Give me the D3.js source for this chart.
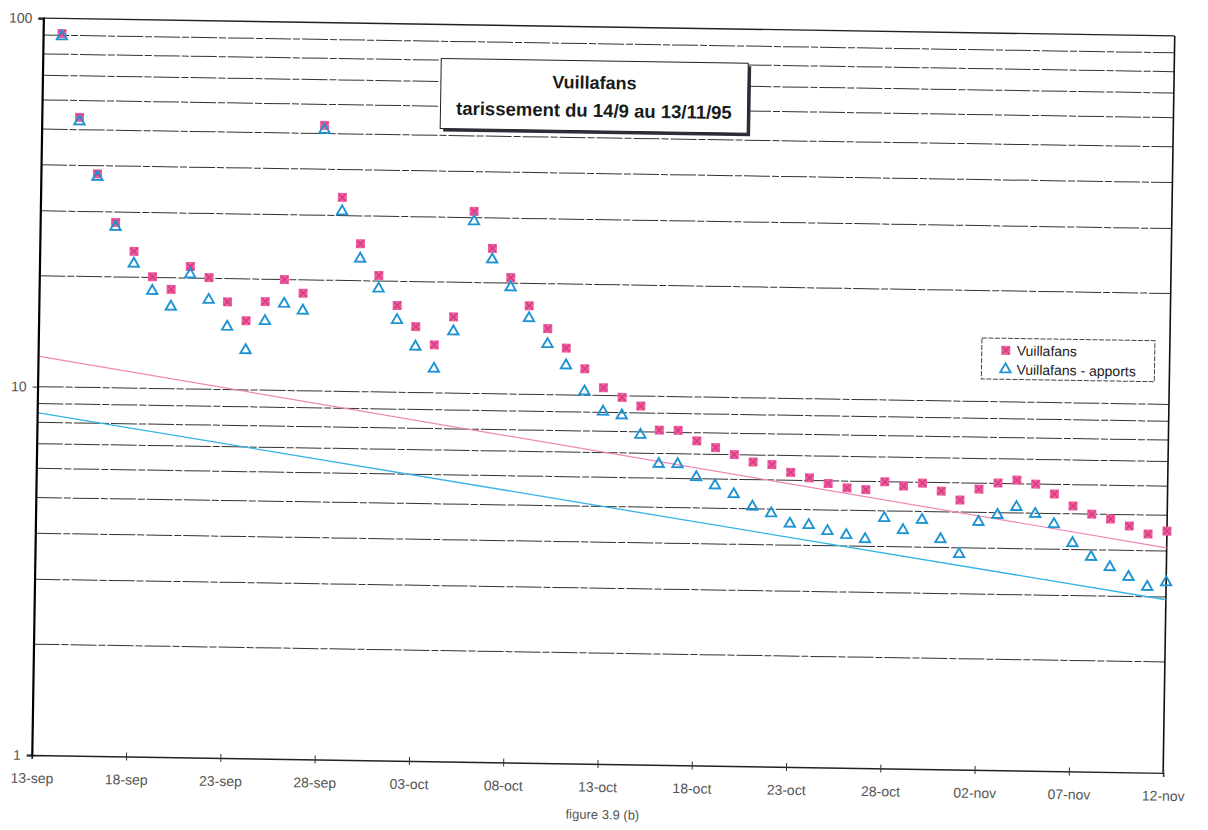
<!DOCTYPE html>
<html>
<head>
<meta charset="utf-8">
<script src="https://cdn.jsdelivr.net/npm/d3@7"></script>
<style>
  body { margin: 0; background: #fff; }
  svg { display: block; font-family: "Liberation Sans", Arial, sans-serif; }
</style>
</head>
<body>
<div id="chart"></div>
<script>
// daily observations, 14-sep-1995 .. 12-nov-1995
const firstDay = Date.UTC(1995, 8, 14);
const lastDay = Date.UTC(1995, 10, 12);

const vuillafans = [
  91, 54, 38, 28.1, 23.5, 20.1, 18.6, 21.5, 20.1, 17.3,
  15.4, 17.4, 20.0, 18.4, 52.6, 33.6, 25.2, 20.7, 17.2, 15.1,
  13.5, 16.1, 31.2, 24.8, 20.7, 17.4, 15.1, 13.4, 11.8, 10.5,
  9.9, 9.4, 8.1, 8.1, 7.6, 7.3, 7.0, 6.7, 6.6, 6.3,
  6.1, 5.9, 5.75, 5.7, 6.0, 5.85, 5.97, 5.69, 5.39, 5.78,
  6.02, 6.14, 6.0, 5.65, 5.25, 5.0, 4.86, 4.66, 4.44, 4.53
];

const apports = [
  90, 53, 37.5, 27.5, 21.9, 18.5, 16.8, 20.6, 17.6, 14.9,
  12.9, 15.5, 17.3, 16.6, 51.5, 31.0, 23.1, 19.2, 15.8, 13.4,
  11.7, 14.8, 29.5, 23.3, 19.6, 16.2, 13.8, 12.1, 10.3, 9.1,
  8.9, 7.9, 6.6, 6.6, 6.1, 5.8, 5.5, 5.1, 4.9, 4.6,
  4.57, 4.41, 4.31, 4.21, 4.81, 4.47, 4.77, 4.24, 3.87, 4.74,
  4.96, 5.22, 5.01, 4.71, 4.19, 3.85, 3.62, 3.41, 3.21, 3.31
];

// exponential trend lines, values at 13-sep and 12-nov
const trendDates = ["1995-09-13", "1995-11-12"];
const trendVuillafans = [12.1, 4.08];
const trendApports = [8.5, 2.95];

const tickDates = ["1995-09-13", "1995-09-18", "1995-09-23", "1995-09-28", "1995-10-03",
  "1995-10-08", "1995-10-13", "1995-10-18", "1995-10-23", "1995-10-28",
  "1995-11-02", "1995-11-07", "1995-11-12"];
const tickLabels = ["13-sep", "18-sep", "23-sep", "28-sep", "03-oct", "08-oct", "13-oct",
  "18-oct", "23-oct", "28-oct", "02-nov", "07-nov", "12-nov"];

const yTicks = [1, 10, 100];
const seriesNames = ["Vuillafans", "Vuillafans - apports"];

const W = 1208, H = 830;
const plot = { left: 37.5, right: 1169, top: 27, bottom: 764 };
const pink = "#ee5f9f", pinkDark = "#d63a82", blue = "#1d93d4";

const days = d3.utcDay.range(new Date(firstDay), new Date(lastDay + 1));
const parse = d3.utcParse("%Y-%m-%d");

const x = d3.scaleUtc()
    .domain([parse("1995-09-13"), parse("1995-11-12")])
    .range([plot.left, plot.right]);
const y = d3.scaleLog()
    .domain([1, 100])
    .range([plot.bottom, plot.top]);

const svg = d3.select("#chart").append("svg")
    .attr("width", W)
    .attr("height", H);

// the scanned page sits slightly askew
const g = svg.append("g")
    .attr("transform", "rotate(0.9, 602, 396)");

// log grid lines
g.selectAll(".grid")
    .data(y.ticks().filter(d => d > 1 && d < 100))
    .enter().append("line")
    .attr("class", "grid")
    .attr("x1", plot.left)
    .attr("x2", plot.right)
    .attr("y1", d => y(d))
    .attr("y2", d => y(d))
    .attr("stroke", "#333")
    .attr("stroke-width", 1)
    .attr("stroke-dasharray", "26,2,7,2");

// plot frame (top and right)
g.append("line")
    .attr("x1", plot.left).attr("x2", plot.right)
    .attr("y1", plot.top).attr("y2", plot.top)
    .attr("stroke", "#222").attr("stroke-width", 1.3);
g.append("line")
    .attr("x1", plot.right).attr("x2", plot.right)
    .attr("y1", plot.top).attr("y2", plot.bottom)
    .attr("stroke", "#111").attr("stroke-width", 1.6);

// trend lines
const trendLine = d3.line()
    .x(d => x(parse(d[0])))
    .y(d => y(d[1]));

g.append("path")
    .datum(d3.zip(trendDates, trendVuillafans))
    .attr("fill", "none")
    .attr("stroke", "#ef86b7")
    .attr("stroke-width", 1.2)
    .attr("d", trendLine);

g.append("path")
    .datum(d3.zip(trendDates, trendApports))
    .attr("fill", "none")
    .attr("stroke", "#34b2e6")
    .attr("stroke-width", 1.3)
    .attr("d", trendLine);

// axes
const xAxis = g.append("g")
    .attr("transform", `translate(0,${plot.bottom})`)
    .call(d3.axisBottom(x)
        .tickValues(tickDates.map(parse))
        .tickFormat((d, i) => tickLabels[i])
        .tickSize(4)
        .tickPadding(14));
xAxis.select(".domain").attr("stroke", "#222").attr("stroke-width", 1.5);
xAxis.selectAll(".tick line").attr("y1", -4).attr("stroke", "#333");
xAxis.selectAll(".tick text")
    .attr("font-size", "14px")
    .attr("fill", "#555")
    .attr("font-family", "Liberation Sans, Arial, sans-serif");

const yAxis = g.append("g")
    .attr("transform", `translate(${plot.left},0)`)
    .call(d3.axisLeft(y)
        .tickValues(yTicks)
        .tickFormat(d3.format("d"))
        .tickSize(5)
        .tickPadding(6));
yAxis.select(".domain").attr("stroke", "#000").attr("stroke-width", 2.2);
yAxis.selectAll(".tick line").attr("stroke", "#333");
yAxis.selectAll(".tick text")
    .attr("font-size", "14px")
    .attr("fill", "#555")
    .attr("font-family", "Liberation Sans, Arial, sans-serif");

// markers
const tri = d3.symbol().type(d3.symbolTriangle).size(46);

function pinkMarker(sel) {
    sel.append("rect")
        .attr("x", -4.5).attr("y", -4.5)
        .attr("width", 9).attr("height", 9)
        .attr("fill", pink);
    sel.append("path")
        .attr("d", "M-3.5,-3.5L3.5,3.5M3.5,-3.5L-3.5,3.5")
        .attr("stroke", pinkDark)
        .attr("stroke-width", 1.4);
}

function blueMarker(sel) {
    sel.append("path")
        .attr("d", tri)
        .attr("fill", "none")
        .attr("stroke", blue)
        .attr("stroke-width", 1.9);
}

g.selectAll(".pt-v")
    .data(vuillafans)
    .enter().append("g")
    .attr("class", "pt-v")
    .attr("transform", (d, i) => `translate(${x(days[i])},${y(d)})`)
    .call(pinkMarker);

g.selectAll(".pt-a")
    .data(apports)
    .enter().append("g")
    .attr("class", "pt-a")
    .attr("transform", (d, i) => `translate(${x(days[i])},${y(d) + 1})`)
    .call(blueMarker);

// title box
const tb = { x: 436, y: 61, w: 307, h: 70 };
g.append("rect")
    .attr("x", tb.x + 3).attr("y", tb.y + 3)
    .attr("width", tb.w).attr("height", tb.h)
    .attr("fill", "#2a2f3a");
g.append("rect")
    .attr("x", tb.x).attr("y", tb.y)
    .attr("width", tb.w).attr("height", tb.h)
    .attr("fill", "#fff")
    .attr("stroke", "#222")
    .attr("stroke-width", 1);
g.append("text")
    .attr("x", tb.x + tb.w / 2)
    .attr("y", tb.y + 28)
    .attr("text-anchor", "middle")
    .attr("font-size", "18px")
    .attr("font-weight", "bold")
    .attr("fill", "#1a1a1a")
    .text("Vuillafans");
g.append("text")
    .attr("x", tb.x + tb.w / 2)
    .attr("y", tb.y + 56)
    .attr("text-anchor", "middle")
    .attr("font-size", "18.5px")
    .attr("font-weight", "bold")
    .attr("fill", "#1a1a1a")
    .text("tarissement du 14/9 au 13/11/95");

// legend
const lg = { x: 981, y: 332, w: 173, h: 41 };
g.append("rect")
    .attr("x", lg.x).attr("y", lg.y)
    .attr("width", lg.w).attr("height", lg.h)
    .attr("fill", "#fff")
    .attr("stroke", "#444")
    .attr("stroke-width", 1)
    .attr("stroke-dasharray", "5,1.5");

const legendRows = g.selectAll(".legend-row")
    .data(seriesNames)
    .enter().append("g")
    .attr("class", "legend-row")
    .attr("transform", (d, i) => `translate(${lg.x + 24},${lg.y + 12 + i * 19})`);

legendRows.filter((d, i) => i === 0).call(pinkMarker);
legendRows.filter((d, i) => i === 1).call(blueMarker);

legendRows.append("text")
    .attr("x", 11)
    .attr("y", 5)
    .attr("font-size", "14px")
    .attr("fill", "#222")
    .text(d => d);

// caption
g.append("text")
    .attr("x", 609)
    .attr("y", 819)
    .attr("text-anchor", "middle")
    .attr("font-size", "13px")
    .attr("fill", "#555")
    .text("figure 3.9 (b)");
</script>
</body>
</html>
